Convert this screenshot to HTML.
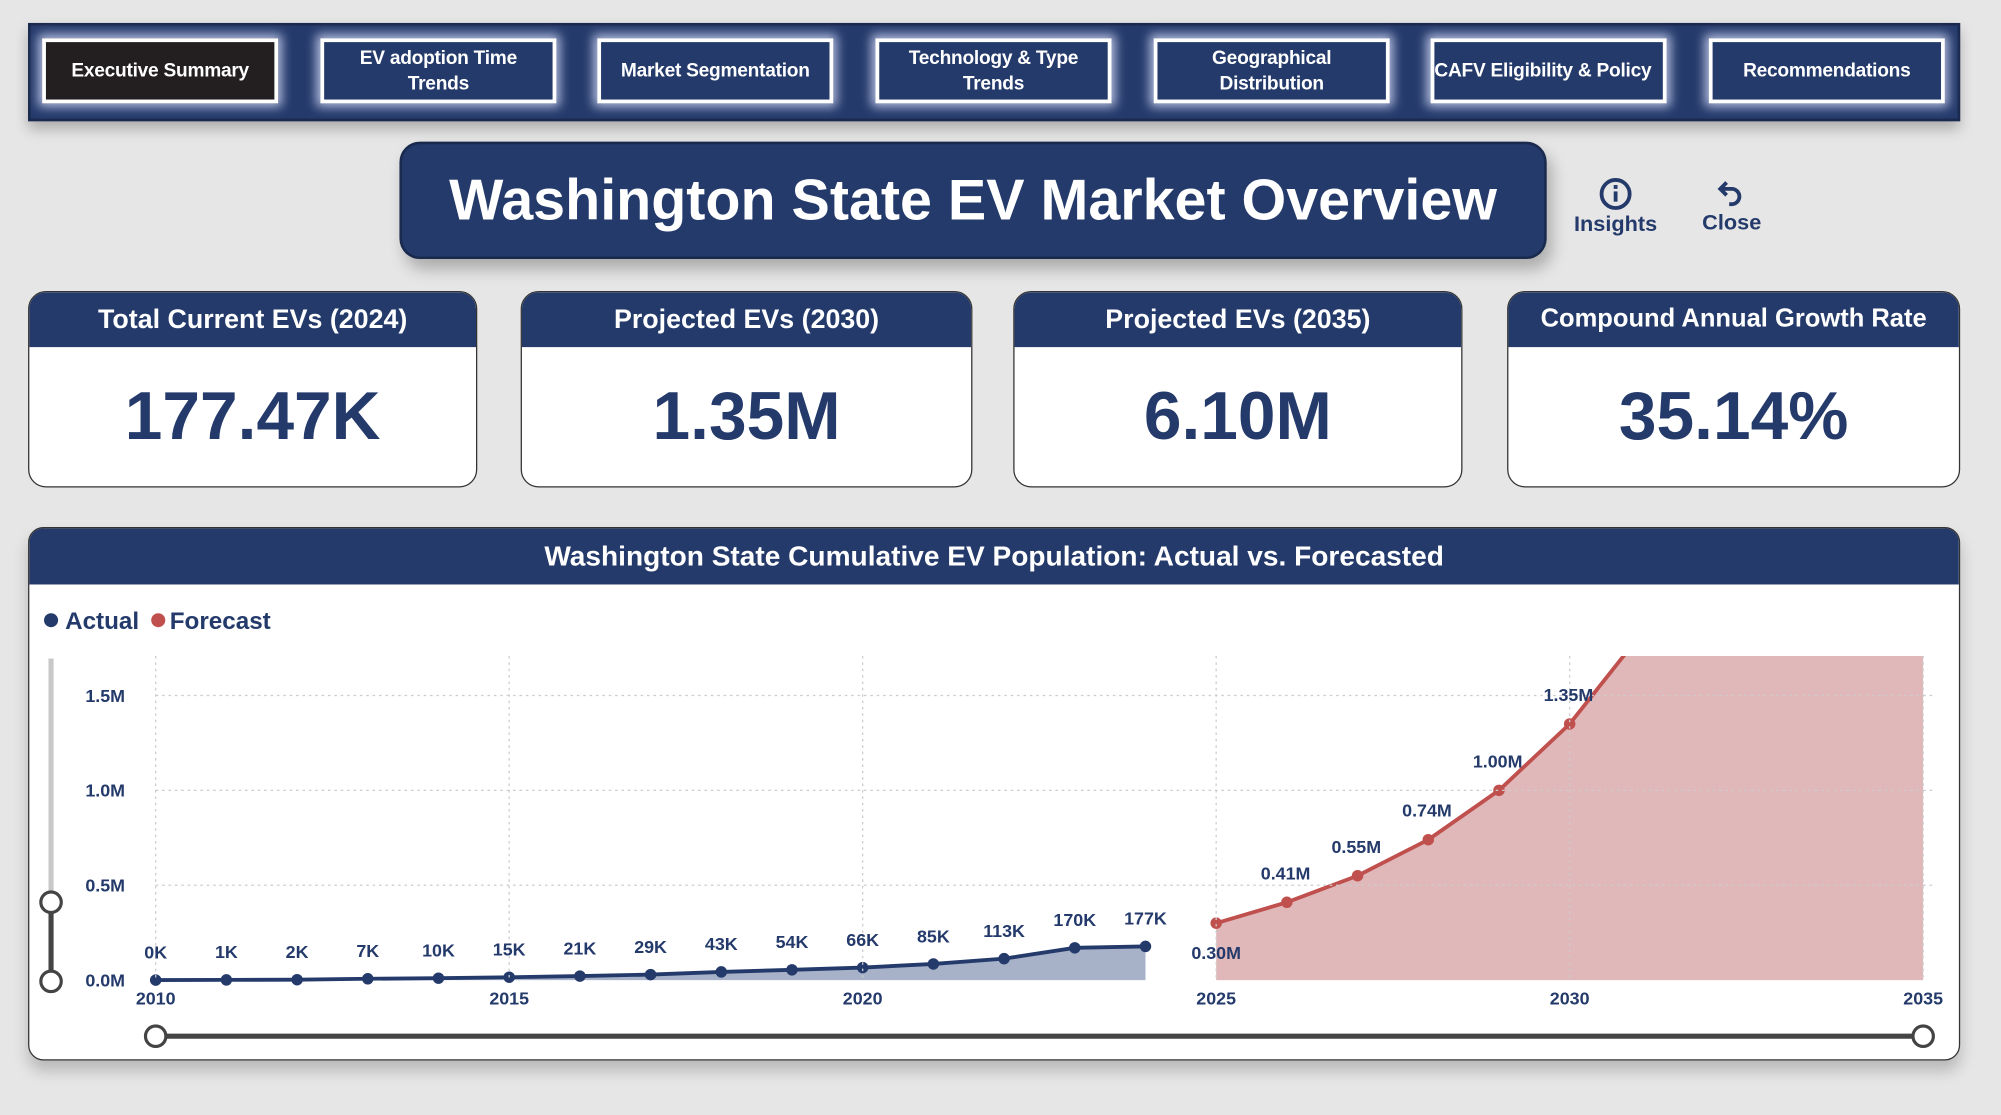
<!DOCTYPE html>
<html><head><meta charset="utf-8">
<style>
html,body{margin:0;padding:0;width:2001px;height:1115px;overflow:hidden;background:#e6e6e6;font-family:"Liberation Sans",sans-serif;}
#wrap{position:absolute;left:0;top:0;width:1568px;height:874px;transform:scale(1.27615);transform-origin:0 0;}
.abs{position:absolute;box-sizing:border-box;}
.nav{left:22px;top:18px;width:1514px;height:77px;background:#243a6b;border:2px solid #1a2a4e;box-shadow:0 6px 10px rgba(0,0,0,.25);}
.btn{top:30px;height:51px;width:185px;background:#243a6b;border:3px solid #fff;box-shadow:0 0 8px 3px rgba(220,225,255,.8);color:#fff;font-weight:bold;font-size:15px;display:flex;align-items:center;justify-content:center;text-align:center;line-height:20px;white-space:nowrap;overflow:hidden;letter-spacing:-0.2px;}
.title{left:313px;top:111px;width:899px;height:92px;background:#243a6b;border-radius:16px;border:2px solid #1a2a4e;color:#fff;font-weight:bold;font-size:45px;display:flex;align-items:center;justify-content:center;box-shadow:4px 8px 12px rgba(0,0,0,.25);}
.icn{color:#243a6b;font-weight:bold;font-size:17px;text-align:center;}
.card{top:228px;height:154px;background:#fff;border:1.5px solid #333;border-radius:14px;overflow:hidden;}
.card .h{position:absolute;left:0;top:0;right:0;height:43px;background:#243a6b;color:#fff;font-weight:bold;font-size:21px;display:flex;align-items:center;justify-content:center;}
.card .v{position:absolute;left:0;right:0;top:67px;text-align:center;color:#243a6b;font-weight:bold;font-size:53px;}
.chart{left:22px;top:413px;width:1514px;height:418px;background:#fff;border:1.5px solid #333;border-radius:12px;overflow:hidden;box-shadow:0 8px 12px rgba(0,0,0,.2);}
.chart .h{position:absolute;left:0;top:0;right:0;height:44px;background:#243a6b;color:#fff;font-weight:bold;font-size:22px;display:flex;align-items:center;justify-content:center;}
</style></head><body>
<div id="wrap">
<div class="abs nav"></div>
<div class="abs btn" style="left:33px;background:#231f20">Executive Summary</div>
<div class="abs btn" style="left:251px">EV adoption Time<br>Trends</div>
<div class="abs btn" style="left:468px">Market Segmentation</div>
<div class="abs btn" style="left:686px">Technology &amp; Type<br>Trends</div>
<div class="abs btn" style="left:904px">Geographical<br>Distribution</div>
<div class="abs btn" style="left:1121px;justify-content:flex-start">CAFV Eligibility &amp; Policy</div>
<div class="abs btn" style="left:1339px">Recommendations</div>

<div class="abs title">Washington State EV Market Overview</div>

<div class="abs icn" style="left:1231px;top:137px;width:70px">
<svg width="30" height="30" viewBox="0 0 30 30" style="display:block;margin:0 auto"><circle cx="15" cy="15" r="11" fill="none" stroke="#243a6b" stroke-width="3"/><rect x="13.5" y="13" width="3" height="8" fill="#243a6b"/><rect x="13.5" y="8" width="3" height="3" fill="#243a6b"/></svg>
<div style="margin-top:-1px">Insights</div></div>
<div class="abs icn" style="left:1327px;top:137px;width:60px">
<svg width="30" height="30" viewBox="0 0 30 30" style="display:block;margin:0 auto"><path d="M11 6 L6 11 L11 16 M6 11 H15 A6 6 0 0 1 15 23 H13" fill="none" stroke="#243a6b" stroke-width="3"/></svg>
<div style="margin-top:-2px">Close</div></div>

<div class="abs card" style="left:22px;width:352px"><div class="h">Total Current EVs (2024)</div><div class="v">177.47K</div></div>
<div class="abs card" style="left:408px;width:354px"><div class="h">Projected EVs (2030)</div><div class="v">1.35M</div></div>
<div class="abs card" style="left:794px;width:352px"><div class="h">Projected EVs (2035)</div><div class="v">6.10M</div></div>
<div class="abs card" style="left:1181px;width:355px"><div class="h" style="font-size:20px">Compound Annual Growth Rate</div><div class="v">35.14%</div></div>

<div class="abs chart"><div class="h">Washington State Cumulative EV Population: Actual vs. Forecasted</div></div>
<svg id="plot" class="abs" style="left:0;top:0" width="1568" height="874" font-family="Liberation Sans, sans-serif" font-weight="bold"></svg>
</div>
<script>
const actualYears=[2010,2011,2012,2013,2014,2015,2016,2017,2018,2019,2020,2021,2022,2023,2024];
const actualValues=[0,1000,2000,7000,10000,15000,21000,29000,43000,54000,66000,85000,113000,170000,177470];
const actualLabels=["0K","1K","2K","7K","10K","15K","21K","29K","43K","54K","66K","85K","113K","170K","177K"];
const forecastYears=[2025,2026,2027,2028,2029,2030,2031,2032,2033,2034,2035];
const forecastValues=[300000,410000,550000,740000,1000000,1350000,1820000,2460000,3330000,4500000,6100000];
const forecastLabels=["0.30M","0.41M","0.55M","0.74M","1.00M","1.35M","","","","",""];
const yTicks=[0,500000,1000000,1500000];
const yTickLabels=["0.0M","0.5M","1.0M","1.5M"];
const xTicks=[2010,2015,2020,2025,2030,2035];

const NS="http://www.w3.org/2000/svg";
const svg=document.getElementById('plot');
const X0=122,X1=1507,Y0=768,Y15=545,TOP=514;
const x=y=>X0+(y-2010)/(2035-2010)*(X1-X0);
const y=v=>Y0-v/1500000*(Y0-Y15);
function el(t,a,p){const e=document.createElementNS(NS,t);for(const k in a)e.setAttribute(k,a[k]);(p||svg).appendChild(e);return e;}
const defs=el('defs',{});const cp=el('clipPath',{id:'pc'},defs);el('rect',{x:X0-10,y:TOP,width:X1-X0+20,height:Y0-TOP+10},cp);
const g=el('g',{'clip-path':'url(#pc)'});
let e;
e=el('circle',{cx:40,cy:486,r:5.5,fill:'#243a6b'});
e=el('text',{x:51,y:493,'font-size':19,fill:'#243a6b'});e.textContent='Actual';
e=el('circle',{cx:124,cy:486,r:5.5,fill:'#c0504d'});
e=el('text',{x:133,y:493,'font-size':19,fill:'#243a6b'});e.textContent='Forecast';
yTicks.forEach((t,i)=>{
 if(i>0){e=el('line',{x1:X0,x2:X1+10,y1:y(t),y2:y(t),stroke:'#ccc','stroke-dasharray':'2 3'});}
 e=el('text',{x:98,y:y(t)+5,'font-size':14,fill:'#243a6b','text-anchor':'end'});e.textContent=yTickLabels[i];
});
xTicks.forEach(t=>{
 e=el('line',{x1:x(t),x2:x(t),y1:TOP,y2:Y0,stroke:'#ccc','stroke-dasharray':'2 3'});
 e=el('text',{x:x(t),y:787,'font-size':14,fill:'#243a6b','text-anchor':'middle'});e.textContent=String(t);
});
function area(xs,vs){let d='M'+x(xs[0])+','+Y0;xs.forEach((t,i)=>d+=' L'+x(t)+','+y(vs[i]));return d+' L'+x(xs[xs.length-1])+','+Y0+' Z';}
function line(xs,vs){return xs.map((t,i)=>(i?'L':'M')+x(t)+','+y(vs[i])).join(' ');}
e=el('path',{d:area(actualYears,actualValues),fill:'#a7b1c8'},g);
e=el('path',{d:area(forecastYears,forecastValues),fill:'#e0b8b9'},g);
e=el('path',{d:line(actualYears,actualValues),fill:'none',stroke:'#243a6b','stroke-width':3},g);
e=el('path',{d:line(forecastYears,forecastValues),fill:'none',stroke:'#c0504d','stroke-width':3},g);
actualYears.forEach((t,i)=>{
 e=el('circle',{cx:x(t),cy:y(actualValues[i]),r:4.5,fill:'#243a6b'},g);
 e=el('text',{x:x(t),y:y(actualValues[i])-17,'font-size':14,fill:'#243a6b','text-anchor':'middle'});e.textContent=actualLabels[i];
});
forecastYears.forEach((t,i)=>{
 e=el('circle',{cx:x(t),cy:y(forecastValues[i]),r:4.5,fill:'#c0504d'},g);
 if(!forecastLabels[i])return;
 const below=i===0;
 e=el('text',{x:below?x(t):x(t)-1,y:below?y(forecastValues[i])+28:y(forecastValues[i])-18,'font-size':14,fill:'#243a6b','text-anchor':'middle'});e.textContent=forecastLabels[i];
});
e=el('line',{x1:40,x2:40,y1:516,y2:707,stroke:'#c8c8c8','stroke-width':4});
e=el('line',{x1:40,x2:40,y1:707,y2:769,stroke:'#444','stroke-width':4});
[707,769].forEach(cy=>{e=el('circle',{cx:40,cy:cy,r:8,fill:'#fff',stroke:'#444','stroke-width':2.5});});
e=el('line',{x1:X0,x2:X1,y1:812,y2:812,stroke:'#444','stroke-width':4});
[X0,X1].forEach(cx=>{e=el('circle',{cx:cx,cy:812,r:8,fill:'#fff',stroke:'#444','stroke-width':2.5});});
</script>
</body></html>
